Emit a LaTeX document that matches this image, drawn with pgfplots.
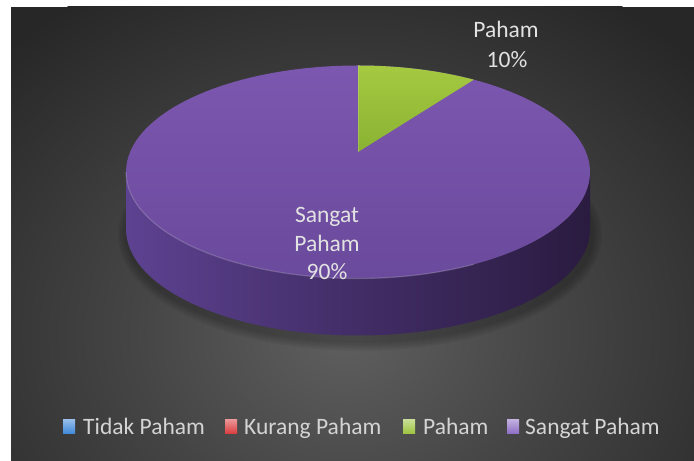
\documentclass[border=0pt]{standalone}
\usepackage{pgfplots}
\pgfplotsset{compat=1.18}
\usepackage{pgfplotstable}
\usetikzlibrary{calc}
\usepackage{fontspec}
\setmainfont{Carlito}
\definecolor{bgA}{HTML}{5F5F5F}
\definecolor{bgB}{HTML}{454545}
\definecolor{bgC}{HTML}{272727}
\definecolor{topA}{HTML}{7C57AF}
\definecolor{topB}{HTML}{6A4A9C}
\definecolor{sideL}{HTML}{5D4291}
\definecolor{sideM}{HTML}{422D66}
\definecolor{sideR}{HTML}{2A1B40}
\definecolor{grA}{HTML}{A5C940}
\definecolor{grB}{HTML}{8AB233}
\definecolor{lblue}{HTML}{3D86D8}
\definecolor{lred}{HTML}{D93A3C}
\definecolor{lgreen}{HTML}{9BC23C}
\definecolor{lpurple}{HTML}{8D6CC4}
\definecolor{txt}{HTML}{E2E2E2}
\definecolor{ltxt}{HTML}{D4D4D4}
\pgfdeclareradialshading{bgshade}{\pgfpoint{0bp}{0bp}}{color(0bp)=(bgA); color(11bp)=(bgB); color(25bp)=(bgC); color(50bp)=(bgC)}

\pgfplotstableread{
cat value
TidakPaham 0
KurangPaham 0
Paham 10
SangatPaham 90
}\piedata

\begin{document}
\begin{tikzpicture}
\pgfplotstablegetelem{0}{value}\of\piedata \pgfmathsetmacro{\va}{\pgfplotsretval}
\pgfplotstablegetelem{1}{value}\of\piedata \pgfmathsetmacro{\vb}{\pgfplotsretval}
\pgfplotstablegetelem{2}{value}\of\piedata \pgfmathsetmacro{\vc}{\pgfplotsretval}
\pgfplotstablegetelem{3}{value}\of\piedata \pgfmathsetmacro{\vd}{\pgfplotsretval}
\pgfmathsetmacro{\tot}{\va+\vb+\vc+\vd}
% slice boundaries (clockwise from 12 o'clock)
\pgfmathsetmacro{\thA}{360*(\va+\vb)/\tot}
\pgfmathsetmacro{\thB}{360*(\va+\vb+\vc)/\tot}
% perspective mapping to rim-ellipse parameter angle
\pgfmathsetmacro{\tA}{atan2((20+103.5*cos(\thA)/(1+0.19*cos(\thA)))/106.5,(228*sin(\thA)/(1+0.19*cos(\thA)))/232)}
\pgfmathsetmacro{\tB}{atan2((20+103.5*cos(\thB)/(1+0.19*cos(\thB)))/106.5,(228*sin(\thB)/(1+0.19*cos(\thB)))/232)}
\pgfmathsetmacro{\pAx}{358+232*cos(\tA)}
\pgfmathsetmacro{\pAy}{289+106.5*sin(\tA)}
\begin{axis}[
  width=694bp, height=461bp, scale only axis,
  xmin=0, xmax=694, ymin=0, ymax=461,
  hide axis, clip=true,
]
% page and background
\fill[white] (axis cs:0,0) rectangle (axis cs:694,461);
\begin{scope}
\clip (axis cs:11,0) rectangle (axis cs:694,454);
\fill[bgC] (axis cs:11,0) rectangle (axis cs:694,454);
\shade[shading=bgshade] (axis cs:345,128) ellipse [x radius=480bp, y radius=400bp];
\end{scope}
% soft shadow
\fill[black, opacity=0.05] (axis cs:360,226) ellipse [x radius=234bp, y radius=108bp];
\fill[black, opacity=0.05] (axis cs:360,226) ellipse [x radius=236bp, y radius=110bp];
\fill[black, opacity=0.05] (axis cs:360,226) ellipse [x radius=238bp, y radius=112bp];
\fill[black, opacity=0.05] (axis cs:360,226) ellipse [x radius=240bp, y radius=114bp];
\fill[black, opacity=0.05] (axis cs:360,226) ellipse [x radius=242bp, y radius=116bp];
% side of the pie (front half)
\shade[left color=sideL, right color=sideR, middle color=sideM]
  (axis cs:126,289) arc[start angle=180, end angle=360, x radius=232bp, y radius=106.5bp]
  -- (axis cs:590,232) arc[start angle=0, end angle=-180, x radius=232bp, y radius=106.5bp] -- cycle;
% top face
\shade[top color=topA, bottom color=topB] (axis cs:358,289) ellipse [x radius=232bp, y radius=106.5bp];
% rim highlight
\draw[line width=1.2bp, color=white, opacity=0.18]
  (axis cs:126,289) arc[start angle=180, end angle=300, x radius=232bp, y radius=106.5bp];
% Paham slice
\shade[top color=grA, bottom color=grB]
  (axis cs:358,309) -- (axis cs:\pAx,\pAy)
  arc[start angle=\tA, end angle=\tB, x radius=232bp, y radius=106.5bp] -- cycle;
\draw[line width=1bp, color=white, opacity=0.15] (axis cs:358,309) -- (axis cs:\pAx,\pAy);
% data labels
\node[anchor=base, text=txt, font=\fontsize{23.5bp}{28bp}\selectfont, inner sep=0pt] at (axis cs:506,423) {Paham};
\node[anchor=base, text=txt, font=\fontsize{23.5bp}{28bp}\selectfont, inner sep=0pt] at (axis cs:507,393) {10\%};
\node[anchor=base, text=txt, font=\fontsize{23.5bp}{28bp}\selectfont, inner sep=0pt] at (axis cs:327,238) {Sangat};
\node[anchor=base, text=txt, font=\fontsize{23.5bp}{28bp}\selectfont, inner sep=0pt] at (axis cs:327,209) {Paham};
\node[anchor=base, text=txt, font=\fontsize{23.5bp}{28bp}\selectfont, inner sep=0pt] at (axis cs:327,181) {90\%};
% legend
\shade[top color=lblue!55!white, bottom color=lblue] (axis cs:63,27) rectangle (axis cs:75,41);
\shade[top color=lred!55!white, bottom color=lred] (axis cs:225,27) rectangle (axis cs:237,41);
\shade[top color=lgreen!55!white, bottom color=lgreen] (axis cs:403,27) rectangle (axis cs:415,41);
\shade[top color=lpurple!55!white, bottom color=lpurple] (axis cs:507,27) rectangle (axis cs:519,41);
\node[anchor=base west, text=ltxt, font=\fontsize{23.5bp}{28bp}\selectfont, inner sep=0pt] at (axis cs:83,27) {Tidak Paham};
\node[anchor=base west, text=ltxt, font=\fontsize{23.5bp}{28bp}\selectfont, inner sep=0pt] at (axis cs:244,27) {Kurang Paham};
\node[anchor=base west, text=ltxt, font=\fontsize{23.5bp}{28bp}\selectfont, inner sep=0pt] at (axis cs:423,27) {Paham};
\node[anchor=base west, text=ltxt, font=\fontsize{23.5bp}{28bp}\selectfont, inner sep=0pt] at (axis cs:525,27) {Sangat Paham};
\end{axis}
\end{tikzpicture}
\end{document}
